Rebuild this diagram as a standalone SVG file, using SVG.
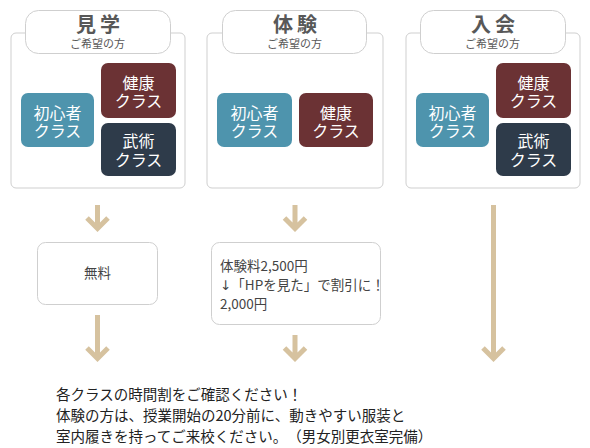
<svg xmlns="http://www.w3.org/2000/svg" width="590" height="448" viewBox="0 0 590 448">
<style>
text{font-family:"Noto Sans CJK JP","Noto Sans",sans-serif}
.panel{fill:#fff;stroke:#cfcfcf;stroke-width:1}
.tab{fill:#fff;stroke:#cfcfcf;stroke-width:1}
.ttl{font-size:20px;font-weight:bold;fill:#585858;text-anchor:middle;letter-spacing:4px}
.sub{font-size:11px;fill:#585858;text-anchor:middle}
.blue{fill:#4e94ad}
.red{fill:#6b3234}
.dark{fill:#2e3b4a}
.bt{font-size:16px;fill:#fff;text-anchor:middle}
.box{fill:#fff;stroke:#cfcfcf;stroke-width:1}
.bx{font-size:13.5px;fill:#444}
.dv{font-family:"DejaVu Sans",sans-serif}
.arr{fill:none;stroke:#d6c29f;stroke-width:5}
.note{font-size:14.5px;fill:#222;text-spacing-trim:space-all}
</style>
<g id="panel-kengaku">
<rect class="panel" x="11" y="33" width="174" height="155" rx="5"/>
<rect class="tab" x="25.5" y="10.5" width="145" height="43" rx="13"/>
<text class="ttl" x="100" y="32">見学</text>
<text class="sub" x="97.5" y="48">ご希望の方</text>
<rect class="blue" x="21" y="93" width="73" height="54" rx="7"/>
<text class="bt"><tspan x="57.5" y="119">初心者</tspan><tspan x="57.5" y="137">クラス</tspan></text>
<rect class="red" x="101" y="63" width="75" height="55" rx="7"/>
<text class="bt"><tspan x="138.5" y="89">健康</tspan><tspan x="138.5" y="107">クラス</tspan></text>
<rect class="dark" x="101" y="123" width="75" height="53" rx="7"/>
<text class="bt"><tspan x="138.5" y="147">武術</tspan><tspan x="138.5" y="166">クラス</tspan></text>
</g>
<g id="panel-taiken">
<rect class="panel" x="207" y="33" width="176" height="155" rx="5"/>
<rect class="tab" x="222.5" y="10.5" width="144" height="43" rx="13"/>
<text class="ttl" x="297" y="32">体験</text>
<text class="sub" x="294.5" y="48">ご希望の方</text>
<rect class="blue" x="217" y="93" width="75" height="54" rx="7"/>
<text class="bt"><tspan x="254.5" y="119">初心者</tspan><tspan x="254.5" y="137">クラス</tspan></text>
<rect class="red" x="299" y="93" width="74" height="54" rx="7"/>
<text class="bt"><tspan x="336" y="119">健康</tspan><tspan x="336" y="137">クラス</tspan></text>
</g>
<g id="panel-nyukai">
<rect class="panel" x="406" y="33" width="174" height="155" rx="5"/>
<rect class="tab" x="420.5" y="10.5" width="145" height="43" rx="13"/>
<text class="ttl" x="495" y="32">入会</text>
<text class="sub" x="492.5" y="48">ご希望の方</text>
<rect class="blue" x="416" y="93" width="73" height="54" rx="7"/>
<text class="bt"><tspan x="452.5" y="119">初心者</tspan><tspan x="452.5" y="137">クラス</tspan></text>
<rect class="red" x="496" y="63" width="75" height="55" rx="7"/>
<text class="bt"><tspan x="533.5" y="89">健康</tspan><tspan x="533.5" y="107">クラス</tspan></text>
<rect class="dark" x="496" y="123" width="75" height="53" rx="7"/>
<text class="bt"><tspan x="533.5" y="147">武術</tspan><tspan x="533.5" y="166">クラス</tspan></text>
</g>
<g id="box-muryo">
<rect class="box" x="37.5" y="242.5" width="120" height="62" rx="8"/>
<text class="bx" x="97.5" y="278" text-anchor="middle">無料</text>
</g>
<g id="box-ryokin">
<rect class="box" x="211.5" y="242.5" width="169" height="82" rx="8"/>
<text class="bx"><tspan x="220" y="271">体験料2,500円</tspan><tspan x="220" y="290"><tspan class="dv">↓</tspan>「HPを見た」で割引に！</tspan><tspan x="220" y="309">2,000円</tspan></text>
</g>
<g id="connectors">
<path class="arr" d="M97.5 205V228M87 218L97.5 228.5L108 218"/>
<path class="arr" d="M97.5 315V358M87 348L97.5 358.5L108 348"/>
<path class="arr" d="M295 205V228M284.5 218L295 228.5L305.5 218"/>
<path class="arr" d="M295 335V358M284.5 348L295 358.5L305.5 348"/>
<path class="arr" d="M493.5 205V358M483 348L493.5 358.5L504 348"/>
</g>
<g id="note">
<text class="note"><tspan x="56" y="400">各クラスの時間割をご確認ください！</tspan><tspan x="56" y="421">体験の方は、授業開始の20分前に、動きやすい服装と</tspan><tspan x="56" y="442">室内履きを持ってご来校ください。（男女別更衣室完備）</tspan></text>
</g>
</svg>
